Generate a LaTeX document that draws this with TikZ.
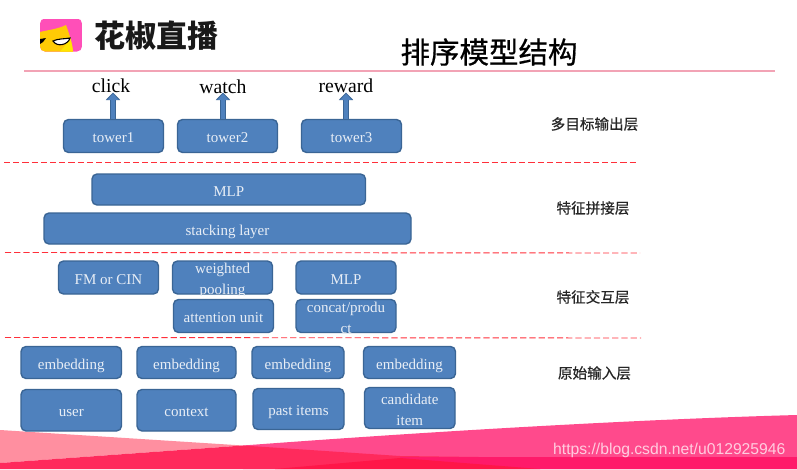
\documentclass[tikz,border=0pt]{standalone}
\usepackage{fontspec}
\setmainfont{Liberation Serif}
\setsansfont{Liberation Sans}
\newfontfamily\cjk{Noto Sans CJK SC}
\newfontfamily\cjkb[FakeBold=0.6]{Noto Sans CJK SC}
\usetikzlibrary{arrows.meta,calc}
\definecolor{boxfill}{HTML}{4F81BD}
\definecolor{boxline}{HTML}{3A6595}
\definecolor{boxtext}{HTML}{E8EEF6}
\definecolor{rulepink}{HTML}{F2A3B5}
\definecolor{dashred}{HTML}{FF2F3A}
\definecolor{bandlight}{HTML}{FF8FA0}
\definecolor{bandpink}{HTML}{FF4A8C}
\definecolor{bandred}{HTML}{FF2A5C}
\definecolor{banddeep}{HTML}{FF1A6A}
\definecolor{bandbright}{HTML}{FF1648}
\definecolor{logopink}{HTML}{FF4FB8}
\definecolor{logoyellow}{HTML}{FFCB05}
\definecolor{logolemon}{HTML}{FFE600}
\newcommand{\tworows}[2]{\raisebox{10.2pt}{\begin{tabular}[t]{@{}c@{}}#1\\[3pt]#2\end{tabular}}}
\tikzset{
  x=1pt,y=-1pt,
  boxnode/.style={draw=boxline,fill=boxfill,line width=1.4pt,rounded corners=5pt,text=boxtext,
    font=\fontsize{15}{18}\selectfont,inner sep=0pt,outer sep=0pt,anchor=north west},
  outlabel/.style={font=\fontsize{19.7}{22}\selectfont,inner sep=0pt,anchor=base,text=black},
  layerlabel/.style={font=\cjkb\fontsize{14.6}{16}\selectfont,inner sep=0pt,text=black!85},
  layerline/.style={draw=dashred,line width=0.9pt,dash pattern=on 6.2pt off 3pt},
  arrowback/.style={draw=boxline,line width=6.8pt,-{Triangle[length=7.5pt,width=14pt]}},
  arrowfront/.style={draw=boxfill,line width=4.6pt,shorten >=1.3pt,-{Triangle[length=6pt,width=11pt]}}
}
% name, x1, x2, y1, y2, text
\newcommand{\bx}[6]{\node[boxnode,minimum width=#3pt-#2pt,minimum height=#5pt-#4pt] (#1) at (#2,#4) {\raisebox{-6.5pt}[0pt][0pt]{#6}};}
\begin{document}
\begin{tikzpicture}
\useasboundingbox (0,0) rectangle (797,469);
\fill[white] (0,0) rectangle (797,469);
% header rule
\coordinate (hl) at (24,71); \coordinate (hr) at (775,71);
\draw[draw=rulepink,line width=1.2pt] (hl) -- (hr);
% bottom band
\fill[bandlight] (0,430) -- (243,445.5) -- (0,463) -- cycle;
\fill[bandpink] (243,445.5) .. controls (450,430) and (650,419) .. (797,415) -- (797,469) -- (243,469) -- cycle;
\fill[bandred] (0,463) -- (243,445.5) -- (400,456) -- (797,461) -- (797,469) -- (0,469) -- cycle;
\fill[banddeep] (400,457) -- (797,457) -- (797,469) -- (400,469) -- cycle;
\fill[bandbright] (275,469) -- (400,458) -- (540,469) -- cycle;
\node[font=\sffamily\fontsize{15.7}{18}\selectfont,text=white,opacity=.72,inner sep=0pt,anchor=west] (mark) at (553,450) {https://blog.csdn.net/u012925946};
% logo
\begin{scope}
  \clip[rounded corners=5pt] (40,18.5) rectangle (82,51.5);
  \fill[logopink] (40,18.5) rectangle (82,51.5);
  \fill[logoyellow] (40,32) .. controls (48,30) and (58,29) .. (66,25) .. controls (69,33) and (72,42) .. (73,51.5) -- (40,51.5) -- cycle;
  \fill[logolemon] (60,51.5) .. controls (64,47) and (68,43) .. (70,37) .. controls (71.5,42) and (72.5,47) .. (73,51.5) -- cycle;
  \fill[black] (40,39) -- (46,38) -- (43,42) -- (40,44) -- cycle;
  \fill[white,draw=black,line width=1.1pt] (53,41) .. controls (58,38.5) and (65,39) .. (70,38) .. controls (68,45) and (57,47.5) .. (53,41) -- cycle;
\end{scope}
\node[font=\cjk\bfseries\fontsize{31}{34}\selectfont,inner sep=0pt,text=black!90] (brand) at (156.5,36) {花椒直播};
\node[font=\cjkb\fontsize{29.5}{32}\selectfont,inner sep=0pt,text=black] (title) at (489,52) {排序模型结构};
% output labels
\node[outlabel] (click) at (111,92.5) {click};
\node[outlabel] (watch) at (223,93.5) {watch};
\node[outlabel] (reward) at (346,92.5) {reward};
% towers
\bx{tower1}{63.5}{163.5}{119.5}{152.5}{tower1}
\bx{tower2}{177.5}{277.5}{119.5}{152.5}{tower2}
\bx{tower3}{301.5}{401.5}{119.5}{152.5}{tower3}
\coordinate (b1) at ($(tower1.north)+(-0.5,-1)$);
\coordinate (b2) at ($(tower2.north -| watch)+(0,-1)$);
\coordinate (b3) at ($(tower3.north -| reward)+(0,-1)$);
\coordinate (t1) at (b1 |- click.base);
\coordinate (t2) at (b2 |- click.base);
\coordinate (t3) at (b3 |- click.base);
\foreach \a/\b in {b1/t1,b2/t2,b3/t3}{
  \draw[arrowback] (\a) -- (\b);
  \draw[arrowfront] (\a) -- (\b);
}
% dashed separators
\coordinate (d1l) at (4,162.5); \coordinate (d1r) at (638,162.5);
\coordinate (d2l) at (5,252.5); \coordinate (d2r) at (640,253);
\coordinate (d3l) at (5,337.5); \coordinate (d3r) at (641,338);
\draw[layerline] (d1l) -- (d1r);
\draw[layerline] (d2l) -- (d2r);
\draw[layerline] (d3l) -- (d3r);
% splice layer
\bx{mlpa}{92}{365.5}{174}{205}{MLP}
\bx{stack}{44}{411}{213}{244}{stacking layer}
% interaction layer
\bx{fm}{58.5}{158.5}{261}{294}{FM or CIN}
\begin{scope}
  \clip (170,259) rectangle (275,295);
  \bx{wp}{172.5}{272.5}{261}{294}{\tworows{weighted}{pooling}}
\end{scope}
\bx{mlpb}{296}{396}{261}{294}{MLP}
\bx{att}{173.5}{273.5}{299.5}{332.5}{attention unit}
\begin{scope}
  \clip (294,298) rectangle (398,333.2);
  \bx{con}{296}{396}{299.5}{332.5}{\tworows{concat/produ}{ct}}
\end{scope}
% input layer
\bx{e1}{21}{121.5}{346.5}{378.5}{embedding}
\bx{e2}{137}{236}{346.5}{378.5}{embedding}
\bx{e3}{252}{344}{346.5}{378.5}{embedding}
\bx{e4}{363.5}{455.5}{346.5}{378.5}{embedding}
\bx{user}{21}{121.5}{389.5}{431}{user}
\bx{context}{137}{236}{389.5}{431}{context}
\bx{past}{253}{344}{388.5}{429.5}{past items}
\bx{cand}{364.5}{455}{387.5}{428.5}{\tworows{candidate}{item}}
% layer labels
\node[layerlabel] (l1) at (594.5,124) {多目标输出层};
\node[layerlabel] (l2) at (593,208) {特征拼接层};
\node[layerlabel] (l3) at (593,297) {特征交互层};
\node[layerlabel] (l4) at (594.5,373) {原始输入层};
\end{tikzpicture}
\end{document}
